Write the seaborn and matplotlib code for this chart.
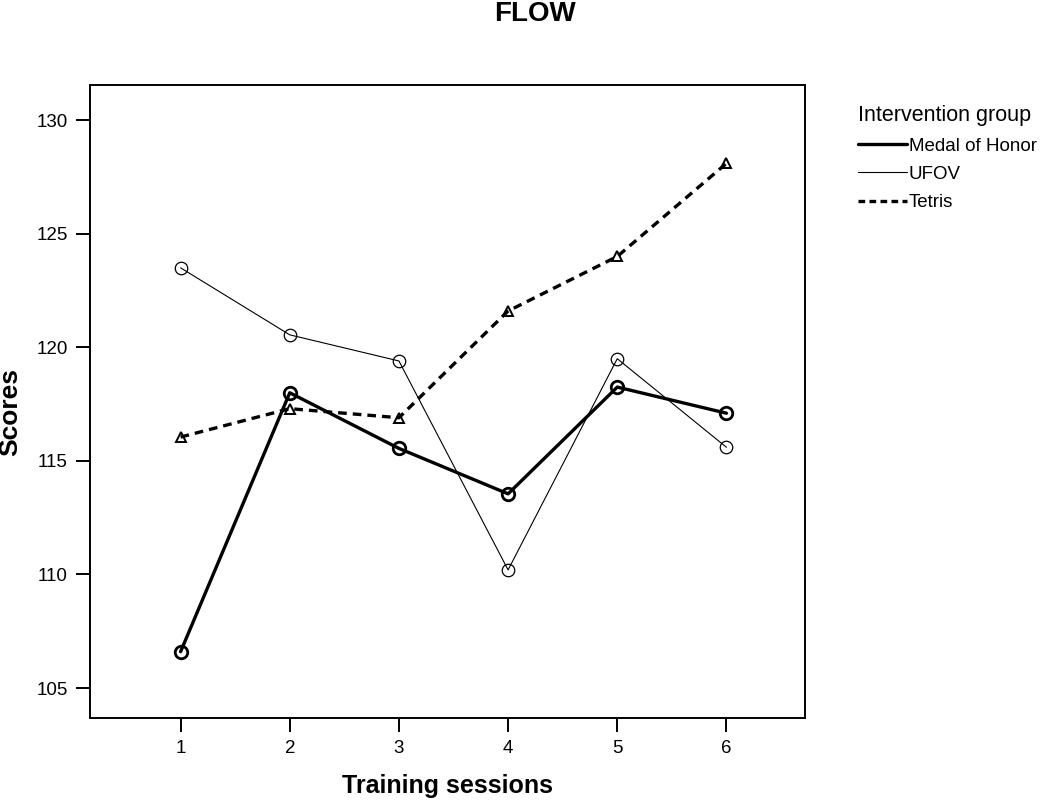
import pandas as pd
import matplotlib.pyplot as plt
import seaborn as sns
from matplotlib.lines import Line2D

# Data
sessions = [1, 2, 3, 4, 5, 6]
groups = ["Medal of Honor", "UFOV", "Tetris"]
medal_of_honor = [106.6, 118.0, 115.55, 113.55, 118.25, 117.1]
ufov = [123.5, 120.55, 119.4, 110.2, 119.5, 115.6]
tetris = [116.05, 117.3, 116.9, 121.6, 124.0, 128.1]
y_ticks = [105, 110, 115, 120, 125, 130]

df = pd.DataFrame({
    "session": sessions * 3,
    "score": medal_of_honor + ufov + tetris,
    "group": [g for g in groups for _ in sessions],
})

sns.set_style("ticks")
plt.rcParams["font.family"] = ["Liberation Sans", "DejaVu Sans"]
plt.rcParams["text.color"] = "black"
plt.rcParams["axes.labelcolor"] = "black"
plt.rcParams["xtick.color"] = "black"
plt.rcParams["ytick.color"] = "black"

fig = plt.figure(figsize=(10.5, 8.01), dpi=100)
ax = fig.add_axes([0.0857, 0.1036, 0.681, 0.790])

widths = {"Medal of Honor": 2.4, "UFOV": 0.8, "Tetris": 2.4}
dash_map = {"Medal of Honor": "", "UFOV": "", "Tetris": (2.6, 1.8)}
marker_map = {"Medal of Honor": "o", "UFOV": "o", "Tetris": "^"}

sns.lineplot(data=df, x="session", y="score", hue="group", style="group",
             size="group", sizes=widths, dashes=dash_map, markers=marker_map,
             palette=["black"] * 3, hue_order=groups, style_order=groups,
             size_order=groups, legend=False, ax=ax,
             mfc="none", mec="black")

# per-group marker look
mark_style = {"Medal of Honor": (9, 2.0), "UFOV": (9, 0.9), "Tetris": (7, 1.4)}
for line, g in zip(ax.lines, groups):
    ms, mew = mark_style[g]
    line.set_markersize(ms)
    line.set_markeredgewidth(mew)
    line.set_markerfacecolor("none")
    line.set_markeredgecolor("black")

ax.set_xlim(0.17, 6.72)
ax.set_ylim(103.68, 131.54)
ax.set_xticks(sessions)
ax.set_yticks(y_ticks)
ax.tick_params(axis="both", direction="out", length=10, width=1.4,
               labelsize=13.5, pad=6)
for s in ax.spines.values():
    s.set_linewidth(1.4)
    s.set_color("black")

ax.set_xlabel("Training sessions", fontsize=18, fontweight="bold", va="center")
ax.xaxis.set_label_coords(0.50, -0.107)
ax.set_ylabel("Scores", fontsize=19, fontweight="bold", va="center")
ax.yaxis.set_label_coords(-0.112, 0.483)
fig.text(0.51, 0.974, "FLOW", ha="center", va="baseline",
         fontsize=20, fontweight="bold")

handles = [
    Line2D([], [], color="black", lw=2.4),
    Line2D([], [], color="black", lw=0.8),
    Line2D([], [], color="black", lw=2.4, dashes=(2.0, 1.3)),
]
leg = fig.legend(handles, groups, title="Intervention group",
                 loc="upper left", bbox_to_anchor=(0.81, 0.878),
                 frameon=False, fontsize=13.5, title_fontsize=15.5,
                 handlelength=2.6, handletextpad=0.1, labelspacing=0.6,
                 borderaxespad=0)
leg._legend_box.align = "left"

fig.savefig("out.png", dpi=100)
